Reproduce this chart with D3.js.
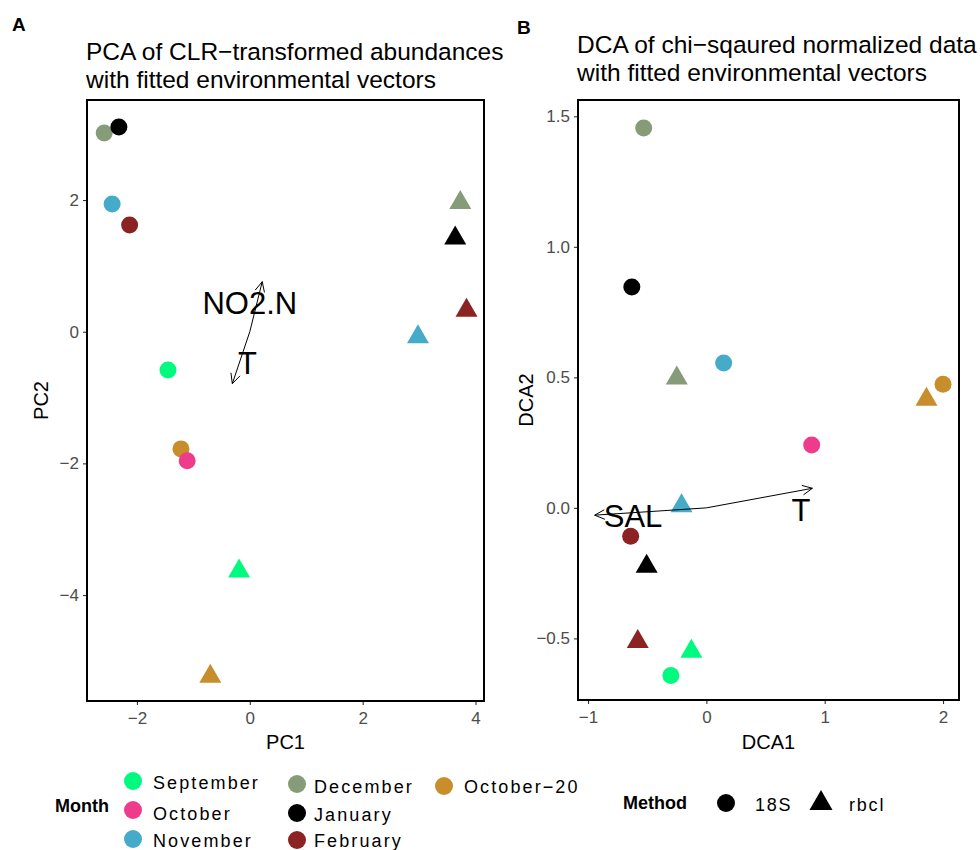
<!DOCTYPE html>
<html>
<head>
<meta charset="utf-8">
<script src="https://cdn.jsdelivr.net/npm/d3@7"></script>
<style>
  body { margin: 0; background: #fff; }
  svg { font-family: "Liberation Sans", Arial, sans-serif; }
</style>
</head>
<body>
<svg id="chart" width="980" height="850"></svg>
<script>
// Months and their colours
const months = ["September", "October", "November", "December", "January", "February", "October-20"];
const monthColors = ["#00FA80", "#EE3B8C", "#46ABC8", "#869C78", "#000000", "#8B2323", "#C78E2B"];
const methods = ["18S", "rbcl"];

// PCA scores (panel A)
const pcaMonth  = ["December", "January", "November", "February", "September", "October-20", "October",
                   "December", "January", "February", "November", "September", "October-20"];
const pcaMethod = ["18S", "18S", "18S", "18S", "18S", "18S", "18S",
                   "rbcl", "rbcl", "rbcl", "rbcl", "rbcl", "rbcl"];
const pcaPC1 = [-2.58, -2.32, -2.44, -2.13, -1.45, -1.22, -1.11, 3.73, 3.64, 3.84, 2.98, -0.19, -0.70];
const pcaPC2 = [3.02, 3.11, 1.94, 1.62, -0.58, -1.78, -1.96, 2.01, 1.47, 0.37, -0.03, -3.59, -5.19];

// Fitted vectors (panel A)
const pcaVecName = ["NO2.N", "T"];
const pcaVecX = [0.22, -0.31];
const pcaVecY = [0.76, -0.79];
const pcaLabX = [0.0, -0.04];
const pcaLabY = [0.44, -0.48];

// DCA scores (panel B)
const dcaMonth  = ["December", "January", "November", "October-20", "October", "February", "September",
                   "December", "October-20", "November", "January", "February", "September"];
const dcaMethod = ["18S", "18S", "18S", "18S", "18S", "18S", "18S",
                   "rbcl", "rbcl", "rbcl", "rbcl", "rbcl", "rbcl"];
const dcaDCA1 = [-0.53, -0.63, 0.146, 2.0, 0.89, -0.64, -0.30, -0.25, 1.86, -0.21, -0.505, -0.58, -0.127];
const dcaDCA2 = [1.455, 0.846, 0.555, 0.474, 0.241, -0.109, -0.642, 0.509, 0.428, 0.02, -0.212, -0.50, -0.538];

// Fitted vectors (panel B)
const dcaVecName = ["SAL", "T"];
const dcaVecX = [-0.944, 0.896];
const dcaVecY = [-0.028, 0.075];
const dcaLabX = [-0.62, 0.80];
const dcaLabY = [-0.031, -0.008];

// Axis ticks
const pcaXTicks = [-2, 0, 2, 4];
const pcaYTicks = [-4, -2, 0, 2];
const dcaXTicks = [-1, 0, 1, 2];
const dcaYTicks = [-0.5, 0.0, 0.5, 1.0, 1.5];

const svg = d3.select("#chart");
const color = d3.scaleOrdinal().domain(months).range(monthColors);

// Triangle centred on its bounding box
function tri(w, h) {
  return `M0,${-h/2}L${w/2},${h/2}L${-w/2},${h/2}Z`;
}

function panel(opts) {
  const { left, right, top, bottom, xDomain, yDomain, xTicks, yTicks, xFmt, yFmt } = opts;
  const x = d3.scaleLinear().domain(xDomain).range([left, right]);
  const y = d3.scaleLinear().domain(yDomain).range([bottom, top]);
  const g = svg.append("g");

  // axes
  const xAxis = d3.axisBottom(x).tickValues(xTicks).tickSize(4).tickPadding(4).tickFormat(xFmt);
  const yAxis = d3.axisLeft(y).tickValues(yTicks).tickSize(4).tickPadding(4).tickFormat(yFmt);
  const gx = g.append("g").attr("transform", `translate(0,${bottom})`).call(xAxis);
  const gy = g.append("g").attr("transform", `translate(${left},0)`).call(yAxis);
  [gx, gy].forEach(a => {
    a.select(".domain").remove();
    a.selectAll(".tick line").attr("stroke", "#333").attr("stroke-width", 1.1);
    a.selectAll(".tick text").attr("fill", "#4D4D4D").attr("font-size", 17)
      .attr("font-family", "Liberation Sans, Arial, sans-serif");
  });
  gx.selectAll(".tick text").attr("dy", "0.9em");

  // panel border
  g.append("rect").attr("x", left).attr("y", top)
    .attr("width", right - left).attr("height", bottom - top)
    .attr("fill", "none").attr("stroke", "#000").attr("stroke-width", 2);

  // points
  const pts = opts.px.map((v, i) => ({ x: v, y: opts.py[i], m: opts.month[i], t: opts.method[i] }));
  g.selectAll("path.pt").data(pts).enter().append("path")
    .attr("class", "pt")
    .attr("transform", d => `translate(${x(d.x)},${y(d.y)})`)
    .attr("d", d => d.t === "18S" ? d3.symbol(d3.symbolCircle, Math.PI * 8.5 * 8.5)() : tri(22, 19))
    .attr("fill", d => color(d.m));

  // vectors from origin with open arrowheads
  opts.vx.forEach((vx, i) => {
    const x0 = x(0), y0 = y(0), x1 = x(vx), y1 = y(opts.vy[i]);
    g.append("line").attr("x1", x0).attr("y1", y0).attr("x2", x1).attr("y2", y1)
      .attr("stroke", "#000").attr("stroke-width", 1);
    const ang = Math.atan2(y1 - y0, x1 - x0);
    const L = 11, a = Math.PI / 7;
    const p1 = [x1 - L * Math.cos(ang - a), y1 - L * Math.sin(ang - a)];
    const p2 = [x1 - L * Math.cos(ang + a), y1 - L * Math.sin(ang + a)];
    g.append("path").attr("d", `M${p1}L${x1},${y1}L${p2}`)
      .attr("fill", "none").attr("stroke", "#000").attr("stroke-width", 1);
  });
  opts.vname.forEach((n, i) => {
    g.append("text").attr("x", x(opts.lx[i])).attr("y", y(opts.ly[i]))
      .attr("dy", "0.36em").attr("text-anchor", "middle")
      .attr("font-size", 31).attr("fill", "#000").text(n);
  });

  // axis titles
  g.append("text").attr("x", (left + right) / 2).attr("y", 749)
    .attr("text-anchor", "middle").attr("font-size", 20).text(opts.xTitle);
  g.append("text").attr("transform", `translate(${opts.yTitleX},${(top + bottom) / 2}) rotate(-90)`)
    .attr("text-anchor", "middle").attr("font-size", 20).text(opts.yTitle);

  // title
  g.append("text").attr("x", left - 1).attr("y", opts.titleY)
    .attr("font-size", 24.5).text(opts.title[0]);
  g.append("text").attr("x", left - 1).attr("y", opts.titleY + 28)
    .attr("font-size", 24.5).text(opts.title[1]);

  // tag
  g.append("text").attr("x", opts.tagX).attr("y", opts.tagY)
    .attr("font-size", 19).attr("font-weight", "bold").text(opts.tag);
}

const minusFmt = d => d3.format("")(d).replace("-", "\u2212");
panel({
  left: 87, right: 484, top: 100, bottom: 701,
  xDomain: [-2.885, 4.15], yDomain: [-5.61, 3.52],
  xTicks: pcaXTicks, yTicks: pcaYTicks, xFmt: minusFmt, yFmt: minusFmt,
  px: pcaPC1, py: pcaPC2, month: pcaMonth, method: pcaMethod,
  vx: pcaVecX, vy: pcaVecY, vname: pcaVecName, lx: pcaLabX, ly: pcaLabY,
  xTitle: "PC1", yTitle: "PC2", yTitleX: 48,
  title: ["PCA of CLR\u2212transformed abundances", "with fitted environmental vectors"], titleY: 60,
  tag: "A", tagX: 12, tagY: 31
});
panel({
  left: 578, right: 959, top: 100, bottom: 700,
  xDomain: [-1.085, 2.135], yDomain: [-0.736, 1.5625],
  xTicks: dcaXTicks, yTicks: dcaYTicks,
  xFmt: minusFmt, yFmt: d => d3.format(".1f")(d).replace("-", "\u2212"),
  px: dcaDCA1, py: dcaDCA2, month: dcaMonth, method: dcaMethod,
  vx: dcaVecX, vy: dcaVecY, vname: dcaVecName, lx: dcaLabX, ly: dcaLabY,
  xTitle: "DCA1", yTitle: "DCA2", yTitleX: 533,
  title: ["DCA of chi\u2212sqaured normalized data", "with fitted environmental vectors"], titleY: 53,
  tag: "B", tagX: 517, tagY: 34
});

// Month legend (three columns)
const leg = svg.append("g");
leg.append("text").attr("x", 55).attr("y", 812).attr("font-size", 18).attr("font-weight", "bold").text("Month");
const legCols = [
  { cx: 133, tx: 153, rows: [[781, 789], [810, 820], [839, 847]], items: ["September", "October", "November"] },
  { cx: 297, tx: 314, rows: [[784, 793], [813, 821], [840, 847]], items: ["December", "January", "February"] },
  { cx: 444, tx: 464, rows: [[786, 793]], items: ["October-20"] }
];
legCols.forEach(c => {
  c.items.forEach((m, i) => {
    leg.append("circle").attr("cx", c.cx).attr("cy", c.rows[i][0]).attr("r", 9).attr("fill", color(m));
    leg.append("text").attr("x", c.tx).attr("y", c.rows[i][1]).attr("font-size", 18)
      .attr("letter-spacing", "2.1px").text(m.replace("-", "\u2212"));
  });
});

// Method legend
leg.append("text").attr("x", 623).attr("y", 809).attr("font-size", 18).attr("font-weight", "bold").text("Method");
leg.append("path").attr("transform", "translate(726,803)")
  .attr("d", d3.symbol(d3.symbolCircle, Math.PI * 9 * 9)()).attr("fill", "#000");
leg.append("text").attr("x", 755).attr("y", 811).attr("font-size", 18).attr("letter-spacing", "1.8px").text(methods[0]);
leg.append("path").attr("transform", "translate(821,800)").attr("d", tri(23, 20)).attr("fill", "#000");
leg.append("text").attr("x", 849).attr("y", 811).attr("font-size", 18).attr("letter-spacing", "1.8px").text(methods[1]);
</script>
</body>
</html>
